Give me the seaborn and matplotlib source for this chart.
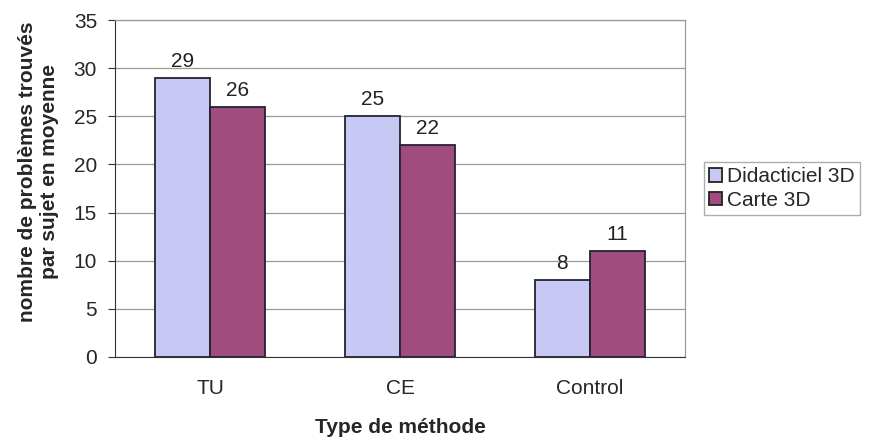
import pandas as pd
import matplotlib.pyplot as plt
import seaborn as sns

# chart values
methodes = ["TU", "CE", "Control"]
didacticiel = [29, 25, 8]
carte = [26, 22, 11]
series = ["Didacticiel 3D", "Carte 3D"]

df = pd.DataFrame({
    "methode": methodes * 2,
    "valeur": didacticiel + carte,
    "serie": [series[0]] * 3 + [series[1]] * 3,
})

sns.set_style("white")
plt.rcParams['font.family'] = ['Liberation Sans', 'DejaVu Sans']

fig = plt.figure(figsize=(8.86, 4.45), dpi=100)
ax = fig.add_axes([0.13, 0.198, 0.643, 0.757])

sns.barplot(data=df, x="methode", y="valeur", hue="serie",
            palette=["#c8c8f4", "#a14c7e"], saturation=1, width=0.58,
            edgecolor="#222233", linewidth=1.3, ax=ax, zorder=3)

# value labels
for cont in ax.containers:
    ax.bar_label(cont, padding=5, fontsize=15, color="#222222")

ax.set_ylim(0, 35)
ax.set_xlim(-0.5, 2.5)
ax.set_yticks(range(0, 36, 5))
ax.yaxis.grid(True, color="#999999", linewidth=0.9, zorder=0)
ax.set_axisbelow(True)
ax.tick_params(axis="y", labelsize=15, length=5, left=True, color="#333333", pad=8)
ax.tick_params(axis="x", labelsize=15, length=0, pad=16)

for side in ["top", "right"]:
    ax.spines[side].set_color("#999999")
    ax.spines[side].set_linewidth(0.9)
ax.spines["left"].set_color("#333333")
ax.spines["bottom"].set_color("#333333")

ax.set_xlabel("Type de méthode", fontsize=15, fontweight="bold", labelpad=14)
ax.set_ylabel("nombre de problèmes trouvés\npar sujet en moyenne",
              fontsize=15, fontweight="bold", linespacing=1.2)
ax.yaxis.set_label_coords(-0.098, 0.55)

leg = ax.legend(loc="center left", bbox_to_anchor=(1.015, 0.5), fontsize=15,
                frameon=True, fancybox=False, edgecolor="#999999",
                handlelength=0.6, handleheight=0.6, handletextpad=0.25,
                borderpad=0.25, labelspacing=0.2)
for h in leg.legend_handles:
    h.set_edgecolor("#222222")

fig.savefig("out.png", dpi=100)
